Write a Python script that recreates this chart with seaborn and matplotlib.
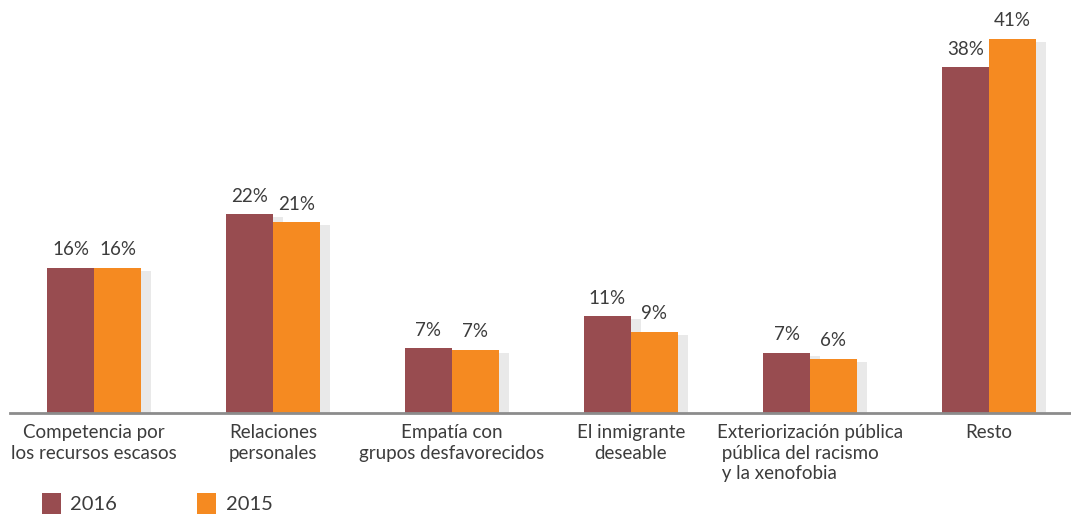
import pandas as pd
import matplotlib
matplotlib.use("Agg")
import matplotlib.pyplot as plt
import matplotlib.patheffects as pe
from matplotlib.patches import Patch
import seaborn as sns

# ============================
# Datos
# ============================
categorias = [
    "Competencia por\nlos recursos escasos",
    "Relaciones\npersonales",
    "Empatía con\ngrupos desfavorecidos",
    "El inmigrante\ndeseable",
    "Exteriorización pública\n pública del racismo\n y la xenofobia",
    "Resto",
]
valores_2016 = [15.9, 21.8, 7.1, 10.6, 6.6, 37.9]
valores_2015 = [15.9, 20.9, 6.9, 8.9, 5.9, 41.0]
anios = ["2016", "2015"]
colores = ["#984C50", "#F58A21"]

df = pd.DataFrame({
    "categoria": categorias * 2,
    "anio": [anios[0]] * len(categorias) + [anios[1]] * len(categorias),
    "valor": valores_2016 + valores_2015,
})

# ============================
# Gráfico
# ============================
sns.set_style("white")
plt.rcParams["font.family"] = ["Lato", "DejaVu Sans"]
texto = "#3C3C3C"

fig = plt.figure(figsize=(10.71, 5.14), dpi=100)
ax = fig.add_axes([10 / 1071, 101 / 514, 1061 / 1071, 413 / 514])

sns.barplot(data=df, x="categoria", y="valor", hue="anio",
            hue_order=anios, palette=colores, width=0.525, gap=0,
            saturation=1, legend=False, ax=ax)

sombra = [pe.SimplePatchShadow(offset=(7, -2), shadow_rgbFace="#a8a8a8", alpha=0.25),
          pe.Normal()]
for cont, vals in zip(ax.containers, [valores_2016, valores_2015]):
    for barra in cont:
        barra.set_linewidth(0)
        barra.set_path_effects(sombra)
    ax.bar_label(cont, labels=[f"{v:.0f}%" for v in vals], padding=7,
                 fontsize=13.5, color=texto)

ax.set_xlim(-0.469, 5.458)
ax.set_ylim(0, 45.3)
ax.set_xlabel("")
ax.set_ylabel("")
ax.set_yticks([])
for lado in ["top", "right", "left"]:
    ax.spines[lado].set_visible(False)
ax.spines["bottom"].set_color("#8C8C8C")
ax.spines["bottom"].set_linewidth(2)
ax.tick_params(axis="x", length=0, pad=8, labelsize=13.5, labelcolor=texto)
for i, lab in enumerate(ax.get_xticklabels()):
    lab.set_linespacing(1.25)
    if i == 4:
        lab.set_multialignment("left")

handles = [Patch(facecolor=c, edgecolor="none") for c in colores]
fig.legend(handles, anios, loc="lower left", bbox_to_anchor=(0.022, -0.035),
           ncol=2, frameon=False, fontsize=14.5, labelcolor=texto,
           handlelength=0.95, handleheight=1.25, handletextpad=0.45,
           columnspacing=4.0)

fig.savefig("out.png", dpi=100)
